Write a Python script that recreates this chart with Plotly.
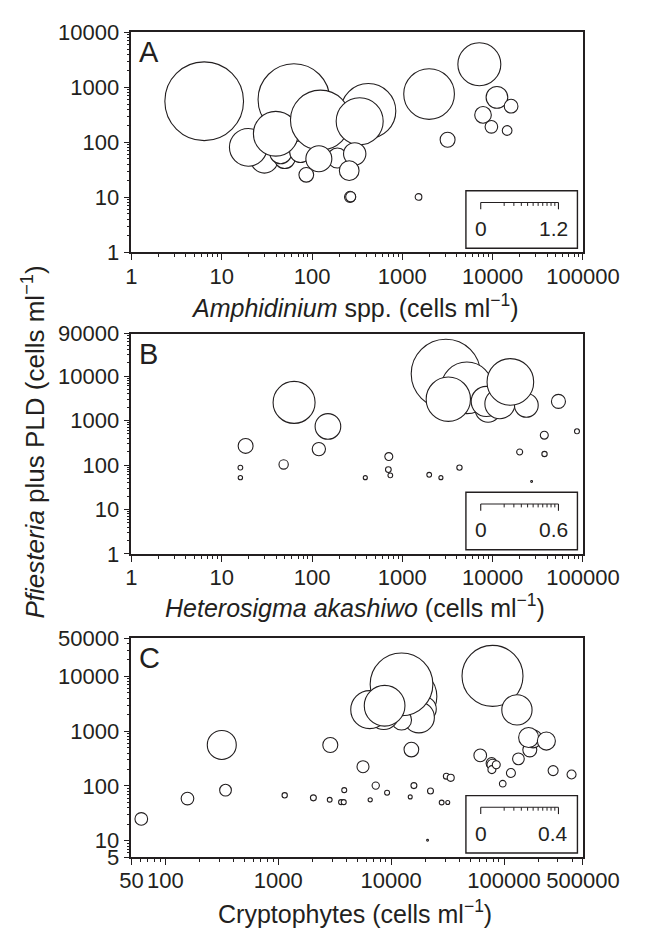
import math
import plotly.graph_objects as go

W, H = 657, 941

# ---------------- Panel A : Amphidinium spp. ----------------
a_x = [6.4, 63, 420, 29.7, 49.9, 45, 74.5, 191, 19.7, 39.7, 124, 337, 119, 86.4, 297, 258,
       264, 268, 1977, 7120, 11150, 16000, 7820, 9680, 14460, 3170, 1511]
a_y = [561, 601, 373, 48.6, 52, 65, 68, 52, 81.5, 144, 255, 242, 50.6, 25.8, 62, 30.7,
       10.2, 10.3, 759, 2637, 660, 457, 317, 192, 165, 112, 10.2]
a_v = [1.053, 0.874, 0.514, 0.124, 0.075, 0.082, 0.08, 0.068, 0.242, 0.340, 0.612, 0.376, 0.115,
       0.037, 0.085, 0.066, 0.021, 0.017, 0.437, 0.314, 0.080, 0.032, 0.047, 0.027, 0.016,
       0.038, 0.0076]
a_scale_max = 1.2

# ---------------- Panel B : Heterosigma akashiwo ----------------
b_x = [3030, 5180, 8900, 8490, 12030, 23600, 3230, 15700, 63.3, 150, 18.4, 119, 48.5, 16.1,
       16.1, 53500, 85800, 37300, 37500, 19900, 27000, 708, 700, 736, 389, 1983, 2673, 4290]
b_y = [11250, 5470, 1800, 2700, 2400, 2200, 3030, 7400, 2566, 738, 269, 228, 103, 87.5,
       52, 2700, 574, 469, 177, 196, 42.6, 155, 79, 58.5, 52, 60.5, 52, 87.5]
b_v = [0.408, 0.227, 0.057, 0.077, 0.077, 0.048, 0.167, 0.185, 0.150, 0.056, 0.019, 0.015,
       0.0074, 0.0019, 0.0016, 0.0167, 0.0021, 0.0054, 0.0024, 0.0031, 0.0003, 0.0054,
       0.0028, 0.0019, 0.0014, 0.0019, 0.0014, 0.0024]
b_scale_max = 0.6

# ---------------- Panel C : Cryptophytes ----------------
c_x = [14200, 19450, 17600, 12350, 8600, 6460, 12350, 8750, 79000, 130000, 61.2, 157, 316,
       341, 1140, 2046, 2855, 3600, 3800, 3840, 2890, 5630, 7300, 6520, 9200, 15100, 15900,
       14750, 22300, 21000, 28000, 31700, 30800, 33700, 61500, 77600, 79000, 78000, 85300,
       97300, 115000, 134000, 169000, 181000, 165000, 237000, 272000, 396000]
c_y = [4290, 2550, 1790, 1607, 2020, 2480, 7180, 2920, 10250, 2450, 25, 59, 561, 84, 67.6,
       60.7, 56, 50.7, 50.7, 84, 561, 225, 101.6, 56, 75.5, 463, 101.6, 63.2, 81, 10.2, 50,
       50, 151, 141, 362, 261, 244, 199, 244, 110, 173, 313, 457, 726, 769, 661, 191, 162]
c_v = [0.184, 0.0354, 0.0545, 0.0227, 0.051, 0.0819, 0.223, 0.0939, 0.211, 0.052, 0.0091,
       0.0091, 0.0477, 0.0078, 0.0016, 0.0020, 0.0013, 0.0014, 0.0014, 0.0014, 0.0128, 0.0082,
       0.0030, 0.0010, 0.0014, 0.0123, 0.0020, 0.0009, 0.0020, 0.0002, 0.0013, 0.0009, 0.0020,
       0.0028, 0.0091, 0.0069, 0.0069, 0.0036, 0.0036, 0.0025, 0.0046, 0.0078, 0.0111, 0.0184,
       0.0227, 0.0184, 0.0057, 0.0046]
c_scale_max = 0.4

# ---------------- axes ----------------
a_xticks = [1, 10, 100, 1000, 10000, 100000]
a_yticks = [1, 10, 100, 1000, 10000]
b_xticks = [1, 10, 100, 1000, 10000, 100000]
b_yticks = [1, 10, 100, 1000, 10000, 90000]
c_xticks = [50, 100, 1000, 10000, 100000, 500000]
c_yticks = [5, 10, 100, 1000, 10000, 50000]

a_xtitle = "<i>Amphidinium</i> spp. (cells ml<sup>−1</sup>)"
b_xtitle = "<i>Heterosigma akashiwo</i> (cells ml<sup>−1</sup>)"
c_xtitle = "Cryptophytes (cells ml<sup>−1</sup>)"
ytitle = "<i>Pfiesteria</i> plus PLD (cells ml<sup>−1</sup>)"

# ---------------- style ----------------
INK = "#231f20"
FONT = "Liberation Sans, Arial, Helvetica, sans-serif"
TICKFONT = 22
TITLEFONT = 25
SCALE_PX = 84  # length of the size-key bar = diameter of the key's max value

X_PX = (129, 617)
PANELS_PX = [(21, 247), (330.5, 556.7), (643.3, 868.3)]


def px2x(p):
    return p / W


def px2y(p):
    return 1 - p / H


def minor_vals(lo, hi):
    out = []
    e = math.floor(math.log10(lo))
    while 10 ** e <= hi:
        for k in range(2, 10):
            v = k * 10 ** e
            if lo < v < hi:
                out.append(v)
        e += 1
    return out


fig = go.Figure()

panels = [
    (a_x, a_y, a_v, a_scale_max, a_xticks, a_yticks, a_xtitle, "A", (1, 100000), (1, 10000)),
    (b_x, b_y, b_v, b_scale_max, b_xticks, b_yticks, b_xtitle, "B", (1, 100000), (1, 90000)),
    (c_x, c_y, c_v, c_scale_max, c_xticks, c_yticks, c_xtitle, "C", (50, 500000), (5, 50000)),
]

shapes = []
annotations = []

for i, (xs, ys, vs, smax, xt, yt, xtitle, letter, xr, yr) in enumerate(panels):
    n = "" if i == 0 else str(i + 1)
    top, bot = PANELS_PX[i]
    sizes = [SCALE_PX * math.sqrt(v / smax) for v in vs]
    fig.add_trace(go.Scatter(
        x=xs, y=ys, mode="markers",
        xaxis="x" + n, yaxis="y" + n,
        marker=dict(size=sizes, sizemode="diameter", color="white", opacity=1,
                    line=dict(color=INK, width=1.1)),
        showlegend=False, hoverinfo="x+y",
    ))
    common = dict(
        type="log", showline=True, linecolor=INK, linewidth=1.6, mirror=True,
        ticks="outside", ticklen=6, tickwidth=1.3, tickcolor=INK,
        showgrid=False, zeroline=False,
        tickfont=dict(family=FONT, size=TICKFONT, color=INK),
    )
    fig.update_layout(**{
        "xaxis" + n: dict(
            common, domain=[px2x(X_PX[0]), px2x(X_PX[1])],
            anchor="y" + n,
            range=[math.log10(xr[0]), math.log10(xr[1])],
            tickmode="array", tickvals=xt, ticktext=[str(v) for v in xt],
            ticklabelstandoff=-3,
            minor=dict(ticks="outside", ticklen=3, tickwidth=1, tickcolor=INK,
                       tickvals=minor_vals(xr[0], xr[1])),
        ),
        "yaxis" + n: dict(
            common, domain=[px2y(bot), px2y(top)],
            anchor="x" + n,
            range=[math.log10(yr[0]), math.log10(yr[1])],
            tickmode="array", tickvals=yt, ticktext=[str(v) for v in yt],
            minor=dict(ticks="outside", ticklen=3, tickwidth=1, tickcolor=INK,
                       tickvals=minor_vals(yr[0], yr[1])),
        ),
    })
    # panel letter
    annotations.append(dict(
        text=letter, x=px2x(135), y=px2y(top + 2), xref="paper", yref="paper",
        xanchor="left", yanchor="top", showarrow=False,
        font=dict(family=FONT, size=29, color=INK),
    ))
    # x-axis title
    title_y = [302, 610, 925][i]
    annotations.append(dict(
        text=xtitle, x=px2x(371), y=px2y(title_y), xref="paper", yref="paper",
        xanchor="center", yanchor="middle", showarrow=False,
        font=dict(family=FONT, size=TITLEFONT, color=INK),
    ))
    # size key box
    bx0, bx1 = 490.5, 611
    by1 = bot - 4.3
    by0 = by1 - 59
    shapes.append(dict(type="rect", xref="paper", yref="paper",
                       x0=px2x(bx0), x1=px2x(bx1), y0=px2y(by1), y1=px2y(by0),
                       line=dict(color=INK, width=1.4), fillcolor="rgba(0,0,0,0)"))
    lx0 = 506.5
    lx1 = lx0 + SCALE_PX
    ly = by0 + 12
    shapes.append(dict(type="line", xref="paper", yref="paper",
                       x0=px2x(lx0), x1=px2x(lx1), y0=px2y(ly), y1=px2y(ly),
                       line=dict(color=INK, width=1.1)))
    for xx, ln in [(lx0, 7), (lx1, 7)]:
        shapes.append(dict(type="line", xref="paper", yref="paper",
                           x0=px2x(xx), x1=px2x(xx), y0=px2y(ly), y1=px2y(ly + ln),
                           line=dict(color=INK, width=1.1)))
    for k in range(1, 11):
        xx = lx0 + SCALE_PX * math.sqrt(k / 11)
        shapes.append(dict(type="line", xref="paper", yref="paper",
                           x0=px2x(xx), x1=px2x(xx), y0=px2y(ly), y1=px2y(ly + 3.5),
                           line=dict(color=INK, width=1)))
    annotations.append(dict(
        text="0", x=px2x(lx0), y=px2y(by0 + 38.5), xref="paper", yref="paper",
        xanchor="center", yanchor="middle", showarrow=False,
        font=dict(family=FONT, size=21, color=INK),
    ))
    annotations.append(dict(
        text=str(smax), x=px2x(lx1 + 13), y=px2y(by0 + 38.5), xref="paper", yref="paper",
        xanchor="right", yanchor="middle", showarrow=False,
        font=dict(family=FONT, size=21, color=INK),
    ))

annotations.append(dict(
    text=ytitle, x=px2x(23), y=px2y(442), xref="paper", yref="paper",
    xanchor="center", yanchor="middle", textangle=-90, showarrow=False,
    font=dict(family=FONT, size=26, color=INK),
))

fig.update_layout(
    width=W, height=H, margin=dict(l=0, r=0, t=0, b=0),
    paper_bgcolor="white", plot_bgcolor="white",
    shapes=shapes, annotations=annotations,
)

fig.write_html("out.html")
